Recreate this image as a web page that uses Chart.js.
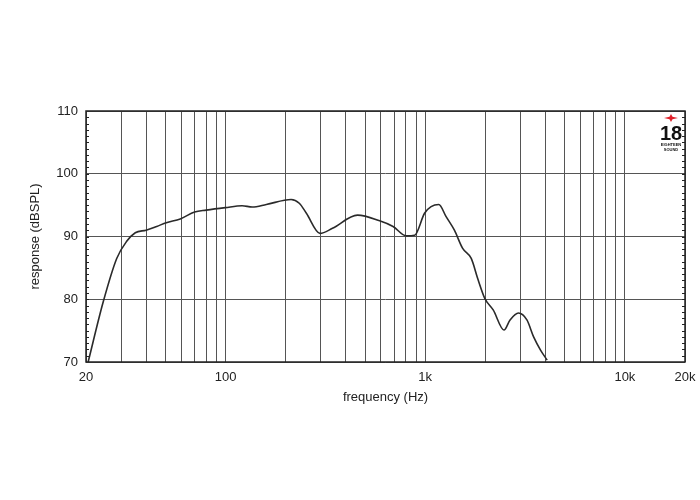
<!DOCTYPE html>
<html>
<head>
<meta charset="utf-8">
<script src="https://cdn.jsdelivr.net/npm/chart.js@4"></script>
<style>
  html, body { margin: 0; padding: 0; background: #fff; }
  #wrap { width: 700px; height: 500px; }
</style>
</head>
<body>
<div id="wrap"><canvas id="fr"></canvas></div>
<script>
// DATA
const freqs = [20.5, 24.4, 28.5, 31.9, 35.3, 40, 45.2, 50.5, 59.3, 70, 80, 99.7, 121, 136, 160, 213, 234, 254,
  297, 343, 458, 591, 690, 804, 885, 992, 1070, 1170, 1270, 1400, 1540, 1700, 1840, 1990, 2190, 2480, 2660,
  2930, 3230, 3490, 3780, 4080];
const levels = [70, 79.6, 86.5, 89.2, 90.6, 91.0, 91.6, 92.2, 92.8, 93.9, 94.2, 94.6, 94.9, 94.7, 95.1, 95.9, 95.3, 93.7,
  90.5, 91.3, 93.4, 92.5, 91.6, 90.1, 90.2, 93.7, 94.75, 95.1, 93.2, 91.0, 88.1, 86.5, 83.1, 80.1, 78.3, 75.1, 76.7,
  77.8, 76.7, 74.0, 71.9, 70.3];

const xGrid = [20, 30, 40, 50, 60, 70, 80, 90, 100, 200, 300, 400, 500, 600, 700, 800, 900,
  1000, 2000, 3000, 4000, 5000, 6000, 7000, 8000, 9000, 10000, 20000];
const xLabels = { 20: '20', 100: '100', 1000: '1k', 10000: '10k', 20000: '20k' };
const yTicks = [70, 80, 90, 100, 110];

const points = freqs.map((f, i) => ({ x: f, y: levels[i] }));

// border + minor ticks + logo
const frame = {
  id: 'frame',
  afterDraw(chart) {
    const c = chart.ctx, a = chart.chartArea, y = chart.scales.y;
    c.save();
    c.strokeStyle = '#222';
    c.lineWidth = 1;
    for (let v = 71; v < 110; v++) {
      const py = Math.round(y.getPixelForValue(v)) + 0.5;
      c.beginPath();
      c.moveTo(a.left, py); c.lineTo(a.left + 3, py);
      c.moveTo(a.right, py); c.lineTo(a.right - 3, py);
      c.stroke();
    }
    c.lineWidth = 1.5;
    c.strokeRect(a.left, a.top, a.right - a.left, a.bottom - a.top);

    // logo
    const lx = a.right - 14, ly = a.top + 7;
    c.fillStyle = '#e0202a';
    c.beginPath();
    c.moveTo(lx - 7, ly); c.lineTo(lx - 1.5, ly - 1.2); c.lineTo(lx, ly - 4); c.lineTo(lx + 1.5, ly - 1.2);
    c.lineTo(lx + 7, ly); c.lineTo(lx + 1.5, ly + 1.2); c.lineTo(lx, ly + 4); c.lineTo(lx - 1.5, ly + 1.2);
    c.closePath(); c.fill();
    c.fillStyle = '#111';
    c.textAlign = 'center';
    c.textBaseline = 'alphabetic';
    c.font = 'bold 20px "Liberation Sans Narrow", "Liberation Sans", sans-serif';
    c.fillText('18', lx, ly + 22);
    c.font = 'bold 4px "Liberation Sans", sans-serif';
    c.fillText('EIGHTEEN', lx, ly + 28);
    c.fillText('SOUND', lx, ly + 33);
    c.restore();
  }
};

new Chart(document.getElementById('fr'), {
  type: 'line',
  data: {
    datasets: [{
      data: points,
      borderColor: '#2a2a2a',
      borderWidth: 1.6,
      pointRadius: 0,
      fill: false,
      cubicInterpolationMode: 'monotone'
    }]
  },
  options: {
    responsive: true,
    maintainAspectRatio: false,
    animation: false,
    layout: { padding: { left: 28, right: 15, top: 111, bottom: 95 } },
    plugins: { legend: { display: false }, tooltip: { enabled: false } },
    scales: {
      x: {
        type: 'logarithmic',
        min: 20,
        max: 20000,
        afterBuildTicks: s => { s.ticks = xGrid.map(v => ({ value: v })); },
        afterFit: s => { s.height = 43; s.paddingLeft = 0; s.paddingRight = 0; },
        grid: { color: '#555', lineWidth: 1, drawTicks: false },
        border: { display: false },
        ticks: {
          autoSkip: false,
          maxRotation: 0,
          padding: 8,
          color: '#222',
          font: { family: '"Liberation Sans", Arial, sans-serif', size: 13 },
          callback: v => xLabels[v] || ''
        },
        title: {
          display: true,
          text: 'frequency (Hz)',
          color: '#222',
          padding: { top: 0, bottom: 0 },
          font: { family: '"Liberation Sans", Arial, sans-serif', size: 13 }
        }
      },
      y: {
        min: 70,
        max: 110,
        afterBuildTicks: s => { s.ticks = yTicks.map(v => ({ value: v })); },
        afterFit: s => { s.width = 58; s.paddingTop = 0; s.paddingBottom = 0; },
        grid: { color: '#555', lineWidth: 1, drawTicks: false },
        border: { display: false },
        ticks: {
          padding: 8,
          color: '#222',
          font: { family: '"Liberation Sans", Arial, sans-serif', size: 13 }
        },
        title: {
          display: true,
          text: 'response (dBSPL)',
          color: '#222',
          padding: { top: 0, bottom: 0 },
          font: { family: '"Liberation Sans", Arial, sans-serif', size: 13 }
        }
      }
    }
  },
  plugins: [frame]
});
</script>
</body>
</html>
